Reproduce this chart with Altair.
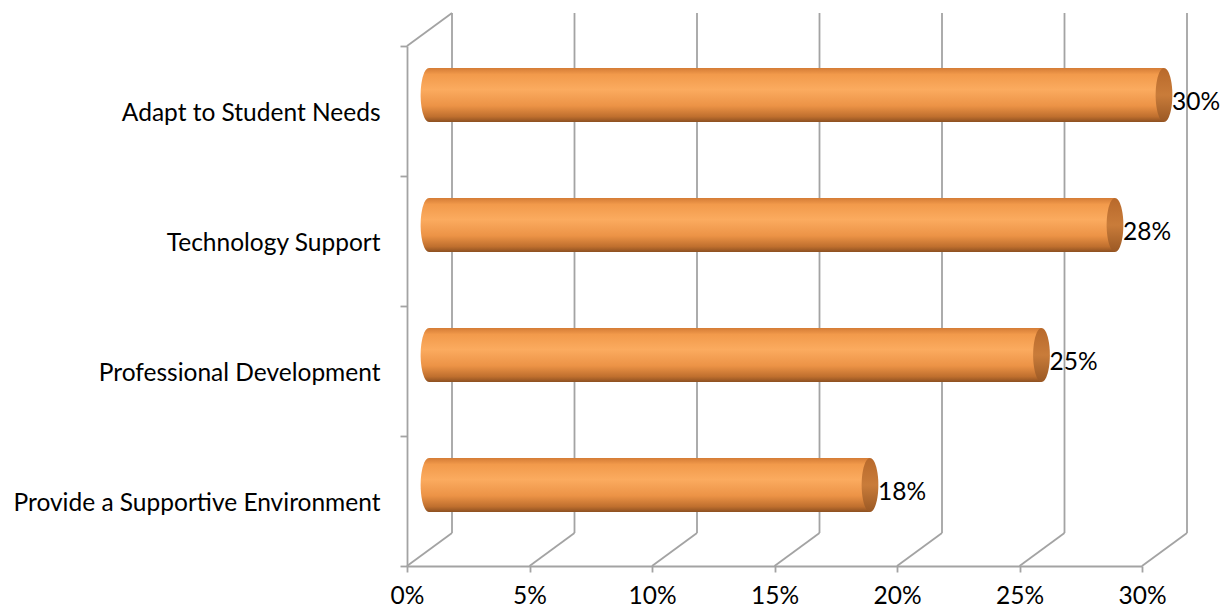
import altair as alt
import pandas as pd

categories = ["Adapt to Student Needs", "Technology Support",
              "Professional Development", "Provide a Supportive Environment"]
values = [0.30, 0.28, 0.25, 0.18]
tick_values = [0, 0.05, 0.10, 0.15, 0.20, 0.25, 0.30]

df = pd.DataFrame({"category": categories, "value": values})
ticks_df = pd.DataFrame({"tick": tick_values})

FONT = "Lato"
FS = 24.5
GRID = "#a3a3a3"
GW = 1.8
W, H = 781, 553
DX, DY = 45, 33          # 3-D depth offset of the back wall
BX, BY = 22, 16          # depth offset of the cylinders (middle)

front_x = alt.Scale(domain=[0, 0.30], range=[0, 735], nice=False, zero=False)
bar_x = alt.Scale(domain=[0, 0.30], range=[BX, 735 + BX], nice=False, zero=False)
front_y = alt.Scale(domain=categories, range=[DY, H], paddingInner=0, paddingOuter=0)
bar_y = alt.Scale(domain=categories, range=[DY - BY, H - BY], paddingInner=0, paddingOuter=0)

ELLIPSE = "M0,-1A0.31,1 0 1,1 0,1A0.31,1 0 1,1 0,-1Z"
BAR_H = 54

# back wall vertical gridlines
back_grid = alt.Chart(ticks_df).mark_rule(color=GRID, strokeWidth=GW, xOffset=DX).encode(
    x=alt.X("tick:Q", scale=front_x, axis=None),
    y=alt.value(0), y2=alt.value(H - DY),
)
# floor diagonals
floor = alt.Chart(ticks_df).mark_rule(color=GRID, strokeWidth=GW, x2Offset=DX).encode(
    x=alt.X("tick:Q", scale=front_x, axis=None),
    x2="tick:Q",
    y=alt.value(H), y2=alt.value(H - DY),
)
# left wall top diagonal
corner = alt.Chart(ticks_df.head(1)).mark_rule(color=GRID, strokeWidth=GW, x2Offset=DX).encode(
    x=alt.X("tick:Q", scale=front_x, axis=None),
    x2="tick:Q",
    y=alt.value(DY), y2=alt.value(0),
)

# invisible layer carrying the axes
axes = alt.Chart(df).mark_tick(opacity=0).encode(
    x=alt.X("value:Q", scale=front_x, axis=alt.Axis(
        values=tick_values, format=".0%", title=None, grid=False,
        domainColor=GRID, domainWidth=GW, tickColor=GRID, tickWidth=GW, tickSize=6,
        labelFont=FONT, labelFontSize=FS, labelColor="#000000", labelPadding=12,
        labelFlush=False)),
    y=alt.Y("category:N", scale=front_y, sort=categories, axis=alt.Axis(
        title=None, grid=False, tickBand="extent",
        domainColor=GRID, domainWidth=GW, tickColor=GRID, tickWidth=GW, tickSize=7,
        labelFont=FONT, labelFontSize=FS, labelColor="#000000", labelPadding=20,
        labelOffset=2, labelLimit=420)),
)

body_stops = [
    alt.GradientStop(offset=0, color="#d47c36"),
    alt.GradientStop(offset=0.12, color="#f29a4b"),
    alt.GradientStop(offset=0.4, color="#fbab5f"),
    alt.GradientStop(offset=0.7, color="#ec9346"),
    alt.GradientStop(offset=0.9, color="#bf6f2e"),
    alt.GradientStop(offset=1, color="#8c5021"),
]
body_grad = alt.Gradient(gradient="linear", x1=0, x2=0, y1=0, y2=1, stops=body_stops)
cap_grad = alt.Gradient(
    gradient="linear", x1=0, x2=0, y1=0, y2=1,
    stops=[
        alt.GradientStop(offset=0, color="#b8692b"),
        alt.GradientStop(offset=0.5, color="#c97c3a"),
        alt.GradientStop(offset=1, color="#9a5824"),
    ],
)

enc_y = alt.Y("category:N", scale=bar_y, sort=categories, axis=None)

left_caps = alt.Chart(df).mark_point(
    shape=ELLIPSE, size=BAR_H * BAR_H, filled=True, color=body_grad, opacity=1, strokeWidth=0,
).encode(
    x=alt.X("value:Q", scale=bar_x, axis=None),
    y=enc_y,
).transform_calculate(value="0")

bars = alt.Chart(df).mark_bar(size=BAR_H, color=body_grad).encode(
    x=alt.X("value:Q", scale=bar_x, axis=None),
    y=enc_y,
)

caps = alt.Chart(df).mark_point(
    shape=ELLIPSE, size=BAR_H * BAR_H, filled=True, color=cap_grad, opacity=1, strokeWidth=0,
).encode(
    x=alt.X("value:Q", scale=bar_x, axis=None),
    y=enc_y,
)

labels = alt.Chart(df).mark_text(
    align="left", baseline="middle", dx=8, dy=8, font=FONT, fontSize=FS, color="#000000"
).encode(
    x=alt.X("value:Q", scale=bar_x, axis=None),
    y=enc_y,
    text=alt.Text("value:Q", format=".0%"),
)

chart = alt.layer(back_grid, floor, corner, axes, left_caps, bars, caps, labels).resolve_scale(
    x="independent", y="independent"
).properties(
    width=W, height=H,
    autosize=alt.AutoSizeParams(type="none"),
    padding={"left": 407, "top": 13, "right": 39, "bottom": 43},
    background="#ffffff",
).configure_view(stroke=None)

chart.save("out.html", embed_options={"renderer": "svg", "actions": False})
